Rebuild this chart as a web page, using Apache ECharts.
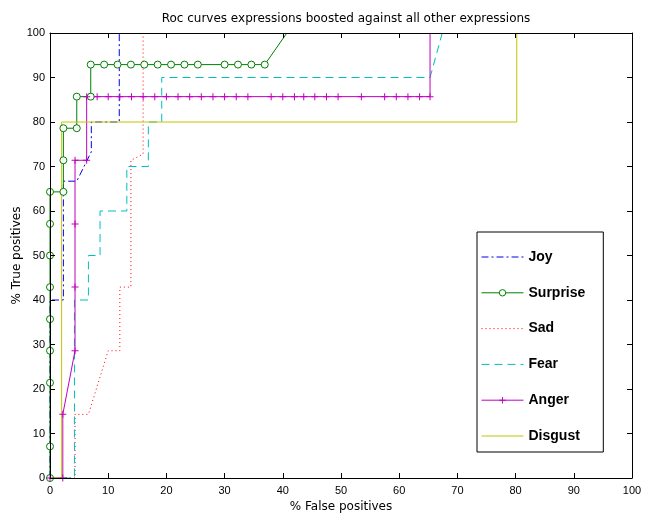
<!DOCTYPE html>
<html>
<head>
<meta charset="utf-8">
<script src="https://cdn.jsdelivr.net/npm/echarts@6/dist/echarts.min.js"></script>
<style>
html,body{margin:0;padding:0;background:#fff;}
#chart{width:646px;height:513px;}
</style>
</head>
<body>
<div id="chart"></div>
<script>
// ---- data (percent false positives / percent true positives) ----
const xTicks = [0,10,20,30,40,50,60,70,80,90,100];
const yTicks = [0,10,20,30,40,50,60,70,80,90,100];

const joyFP = [0, 0, 2.3, 2.3, 4.6, 7.1, 7.1, 11.9, 11.9];
const joyTP = [0, 40, 40, 66.7, 66.7, 73.3, 80, 80, 100];

const surpriseFP = [0, 0, 0, 0, 0, 0, 0, 0, 0, 2.3, 2.3, 2.3, 4.6, 4.6, 7.0, 7.0,
  9.3, 11.6, 13.9, 16.2, 18.5, 20.8, 23.1, 25.4, 30.0, 32.3, 34.6, 36.9, 40.7];
const surpriseTP = [0, 7.1, 21.4, 28.6, 35.7, 42.9, 50, 57.1, 64.3, 64.3, 71.4, 78.6, 78.6, 85.7, 85.7, 92.9,
  92.9, 92.9, 92.9, 92.9, 92.9, 92.9, 92.9, 92.9, 92.9, 92.9, 92.9, 92.9, 100];

const sadFP = [0, 4.3, 4.3, 6.6, 10.0, 12.0, 12.0, 13.9, 13.9, 16.0, 16.0];
const sadTP = [0, 0, 14.3, 14.3, 28.6, 28.6, 42.9, 42.9, 71.4, 72.8, 100];

const fearFP = [0, 4.2, 4.2, 6.6, 6.6, 8.6, 8.6, 13.2, 13.2, 16.9, 16.9, 19.2, 19.2, 65.3, 67.4];
const fearTP = [0, 0, 40, 40, 50, 50, 60, 60, 70, 70, 80, 80, 90, 90, 100];

const angerFP = [0, 2.2, 2.2, 4.3, 4.3, 4.3, 4.3, 6.3,
  6.3, 8.1, 10.0, 12.0, 14.0, 16.0, 18.0, 20.0, 22.0, 24.0, 26.0, 28.0, 30.0, 32.0, 34.0,
  38.0, 40.0, 42.0, 43.6, 45.5, 47.5, 49.5, 53.5, 57.5, 59.5, 61.5, 63.5, 65.3, 65.3];
const angerTP = [0, 0, 14.3, 28.6, 42.9, 57.1, 71.4, 71.4,
  85.7, 85.7, 85.7, 85.7, 85.7, 85.7, 85.7, 85.7, 85.7, 85.7, 85.7, 85.7, 85.7, 85.7, 85.7,
  85.7, 85.7, 85.7, 85.7, 85.7, 85.7, 85.7, 85.7, 85.7, 85.7, 85.7, 85.7, 85.7, 100];

const disgustFP = [0, 2.0, 2.0, 80.2, 80.2];
const disgustTP = [0, 0, 80, 80, 100];

const names = ['Joy', 'Surprise', 'Sad', 'Fear', 'Anger', 'Disgust'];
const colors = ['#0000EE', '#008000', '#FF0000', '#00BFBF', '#BF00BF', '#C4C400'];

// ---- build ----
const FONT = '"Liberation Sans", Arial, Helvetica, sans-serif';
const FONT_W = '"DejaVu Sans", "Liberation Sans", sans-serif';
function pts(fp, tp) {
  return fp.map((x, i) => {
    const p = { value: [x, tp[i]] };
    if (tp[i] >= 100) p.symbol = 'none';
    return p;
  });
}
const plus = 'path://M0,3 L7,3 L7,4 L0,4 Z M3,0 L4,0 L4,7 L3,7 Z';

const seriesDefs = [
  { fp: joyFP, tp: joyTP, symbol: null, type: [7, 3, 2, 3] },
  { fp: surpriseFP, tp: surpriseTP, symbol: 'circle', type: 'solid' },
  { fp: sadFP, tp: sadTP, symbol: null, type: [1, 3] },
  { fp: fearFP, tp: fearTP, symbol: null, type: [8, 5] },
  { fp: angerFP, tp: angerTP, symbol: plus, type: 'solid' },
  { fp: disgustFP, tp: disgustTP, symbol: null, type: 'solid' }
];

const series = seriesDefs.map((d, i) => {
  let itemStyle;
  if (d.symbol === 'circle') itemStyle = { color: '#fff', borderColor: colors[i], borderWidth: 1 };
  else if (d.symbol) itemStyle = { color: colors[i], borderWidth: 0 };
  else itemStyle = { color: colors[i], borderWidth: 0, opacity: 0 };
  return {
    name: names[i],
    type: 'line',
    xAxisIndex: 0,
    yAxisIndex: 0,
    data: pts(d.fp, d.tp),
    symbol: d.symbol || 'rect',
    showSymbol: !!d.symbol,
    symbolSize: 7,
    showAllSymbol: true,
    animation: false,
    clip: true,
    color: colors[i],
    lineStyle: { color: colors[i], width: 1, type: d.type, opacity: 1 },
    itemStyle: itemStyle,
    emphasis: { disabled: true },
    z: 2
  };
});

function valAxis(pos, showLabels, name, ticks) {
  return {
    type: 'value', position: pos, min: 0, max: 100, interval: 10,
    z: 10,
    axisLine: { show: true, onZero: false, lineStyle: { color: '#000', width: 1 } },
    axisTick: { show: true, inside: true, length: 5, lineStyle: { color: '#000' } },
    axisLabel: { show: showLabels, color: '#000', fontSize: 11, fontFamily: FONT,
      margin: (pos === 'bottom') ? 7 : 5,
      formatter: v => ticks.includes(v) ? String(v) : '' },
    splitLine: { show: false },
    name: name || '',
    nameLocation: 'middle',
    nameMoveOverlap: false,
    nameTextStyle: { color: '#000', fontSize: 12, fontFamily: FONT_W }
  };
}

const xb = valAxis('bottom', true, '% False positives', xTicks); xb.nameGap = 23;
const xt = valAxis('top', false, '', xTicks);
const yl = valAxis('left', true, '% True positives', yTicks); yl.nameGap = 27;
const yr = valAxis('right', false, '', yTicks);

const legendData = names.map((n, i) => {
  const item = { name: n };
  if (seriesDefs[i].symbol === 'circle') item.itemStyle = { color: '#fff', borderColor: colors[i], borderWidth: 1 };
  else item.itemStyle = { borderWidth: 0 };
  return item;
});

const chart = echarts.init(document.getElementById('chart'), null, { renderer: 'canvas' });
chart.setOption({
  backgroundColor: '#fff',
  animation: false,
  title: {
    text: 'Roc curves expressions boosted against all other expressions',
    left: 341, top: 8, textAlign: 'center',
    textStyle: { fontSize: 12, fontWeight: 'normal', color: '#000', fontFamily: FONT_W }
  },
  grid: { left: 50, right: 14, top: 33, bottom: 35, containLabel: false, outerBoundsMode: 'none' },
  xAxis: [xb, xt],
  yAxis: [yl, yr],
  legend: {
    orient: 'vertical', left: 477, top: 232,
    padding: [18, 18, 9, 4],
    itemGap: 21.8, itemWidth: 42, itemHeight: 8,
    borderColor: '#000', borderWidth: 1, backgroundColor: '#fff',
    selectedMode: false,
    lineStyle: { width: 1 },
    textStyle: { fontSize: 14, fontWeight: 'bold', color: '#000', fontFamily: FONT },
    data: legendData
  },
  series: series
});
</script>
</body>
</html>
